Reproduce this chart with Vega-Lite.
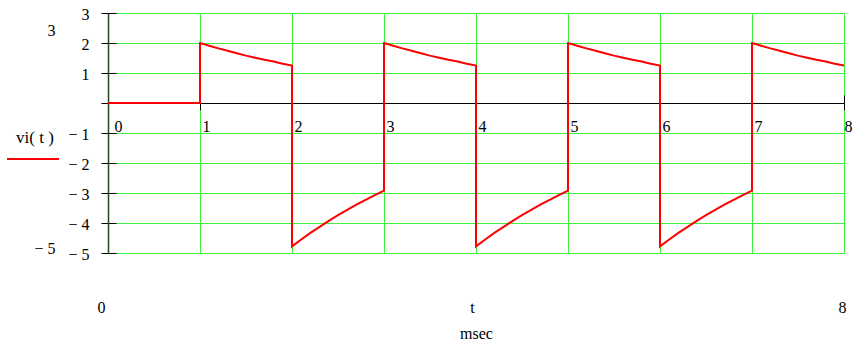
{
  "$schema": "https://vega.github.io/schema/vega-lite/v6.json",
  "width": 736,
  "height": 240,
  "autosize": {"type": "none"},
  "padding": {"left": 108, "top": 13, "right": 10, "bottom": 96},
  "background": "white",
  "config": {
    "view": {"stroke": null},
    "font": "Liberation Serif, Times New Roman, DejaVu Serif, serif",
    "axis": {
      "labelFont": "Liberation Serif, Times New Roman, DejaVu Serif, serif",
      "labelFontSize": 16,
      "labelColor": "black",
      "titleFont": "Liberation Serif, Times New Roman, DejaVu Serif, serif",
      "titleFontSize": 16,
      "titleFontWeight": "normal",
      "titleColor": "black",
      "labelOverlap": false,
      "labelFlush": false,
      "labelBound": false,
      "gridColor": "#3cf03c",
      "gridOpacity": 1,
      "gridWidth": 1,
      "domainColor": "black",
      "tickColor": "black"
    },
    "legend": {
      "titleFont": "Liberation Serif, Times New Roman, DejaVu Serif, serif",
      "labelFont": "Liberation Serif, Times New Roman, DejaVu Serif, serif"
    }
  },
  "data": {
    "values": [
      {"i": 0, "t": 0, "v": 0},
      {"i": 1, "t": 1, "v": 0},
      {"i": 2, "t": 1, "v": 2.0},
      {"i": 3, "t": 1.1, "v": 1.91},
      {"i": 4, "t": 1.2, "v": 1.82},
      {"i": 5, "t": 1.3, "v": 1.74},
      {"i": 6, "t": 1.4, "v": 1.66},
      {"i": 7, "t": 1.5, "v": 1.58},
      {"i": 8, "t": 1.6, "v": 1.51},
      {"i": 9, "t": 1.7, "v": 1.44},
      {"i": 10, "t": 1.8, "v": 1.38},
      {"i": 11, "t": 1.9, "v": 1.31},
      {"i": 12, "t": 2.0, "v": 1.25},
      {"i": 13, "t": 2.0, "v": -4.78},
      {"i": 14, "t": 2.1, "v": -4.55},
      {"i": 15, "t": 2.2, "v": -4.33},
      {"i": 16, "t": 2.3, "v": -4.13},
      {"i": 17, "t": 2.4, "v": -3.93},
      {"i": 18, "t": 2.5, "v": -3.74},
      {"i": 19, "t": 2.6, "v": -3.56},
      {"i": 20, "t": 2.7, "v": -3.39},
      {"i": 21, "t": 2.8, "v": -3.23},
      {"i": 22, "t": 2.9, "v": -3.07},
      {"i": 23, "t": 3.0, "v": -2.92},
      {"i": 24, "t": 3.0, "v": 2.0},
      {"i": 25, "t": 3.1, "v": 1.91},
      {"i": 26, "t": 3.2, "v": 1.82},
      {"i": 27, "t": 3.3, "v": 1.74},
      {"i": 28, "t": 3.4, "v": 1.66},
      {"i": 29, "t": 3.5, "v": 1.58},
      {"i": 30, "t": 3.6, "v": 1.51},
      {"i": 31, "t": 3.7, "v": 1.44},
      {"i": 32, "t": 3.8, "v": 1.38},
      {"i": 33, "t": 3.9, "v": 1.31},
      {"i": 34, "t": 4.0, "v": 1.25},
      {"i": 35, "t": 4.0, "v": -4.78},
      {"i": 36, "t": 4.1, "v": -4.55},
      {"i": 37, "t": 4.2, "v": -4.33},
      {"i": 38, "t": 4.3, "v": -4.13},
      {"i": 39, "t": 4.4, "v": -3.93},
      {"i": 40, "t": 4.5, "v": -3.74},
      {"i": 41, "t": 4.6, "v": -3.56},
      {"i": 42, "t": 4.7, "v": -3.39},
      {"i": 43, "t": 4.8, "v": -3.23},
      {"i": 44, "t": 4.9, "v": -3.07},
      {"i": 45, "t": 5.0, "v": -2.92},
      {"i": 46, "t": 5.0, "v": 2.0},
      {"i": 47, "t": 5.1, "v": 1.91},
      {"i": 48, "t": 5.2, "v": 1.82},
      {"i": 49, "t": 5.3, "v": 1.74},
      {"i": 50, "t": 5.4, "v": 1.66},
      {"i": 51, "t": 5.5, "v": 1.58},
      {"i": 52, "t": 5.6, "v": 1.51},
      {"i": 53, "t": 5.7, "v": 1.44},
      {"i": 54, "t": 5.8, "v": 1.38},
      {"i": 55, "t": 5.9, "v": 1.31},
      {"i": 56, "t": 6.0, "v": 1.25},
      {"i": 57, "t": 6.0, "v": -4.78},
      {"i": 58, "t": 6.1, "v": -4.55},
      {"i": 59, "t": 6.2, "v": -4.33},
      {"i": 60, "t": 6.3, "v": -4.13},
      {"i": 61, "t": 6.4, "v": -3.93},
      {"i": 62, "t": 6.5, "v": -3.74},
      {"i": 63, "t": 6.6, "v": -3.56},
      {"i": 64, "t": 6.7, "v": -3.39},
      {"i": 65, "t": 6.8, "v": -3.23},
      {"i": 66, "t": 6.9, "v": -3.07},
      {"i": 67, "t": 7.0, "v": -2.92},
      {"i": 68, "t": 7.0, "v": 2.0},
      {"i": 69, "t": 7.1, "v": 1.91},
      {"i": 70, "t": 7.2, "v": 1.82},
      {"i": 71, "t": 7.3, "v": 1.74},
      {"i": 72, "t": 7.4, "v": 1.66},
      {"i": 73, "t": 7.5, "v": 1.58},
      {"i": 74, "t": 7.6, "v": 1.51},
      {"i": 75, "t": 7.7, "v": 1.44},
      {"i": 76, "t": 7.8, "v": 1.38},
      {"i": 77, "t": 7.9, "v": 1.31},
      {"i": 78, "t": 8.0, "v": 1.25}
    ]
  },
  "resolve": {"axis": {"x": "independent", "y": "independent"}},
  "layer": [
    {
      "mark": {"type": "line", "opacity": 0},
      "encoding": {
        "x": {"field": "t", "type": "quantitative", "scale": {"domain": [0, 8], "nice": false, "zero": false},
          "axis": {"orient": "bottom", "values": [0, 4, 8], "grid": false, "domain": false, "ticks": false,
            "labelAlign": "center", "labelBaseline": "top", "labelPadding": 46,
            "labelOffset": {"expr": "datum.value == 0 ? -7 : datum.value == 4 ? -4 : -2"},
            "labelExpr": "datum.value == 4 ? 't' : datum.label",
            "title": "msec", "titleX": 368, "titleY": 85, "titleBaseline": "alphabetic", "titleAlign": "center"}},
        "y": {"field": "v", "type": "quantitative", "scale": {"domain": [-5, 3], "nice": false, "zero": false},
          "axis": {"orient": "left", "values": [3, -5], "grid": false, "domain": false, "ticks": false,
            "labelAlign": "right", "labelBaseline": "middle", "labelPadding": 53,
            "labelOffset": {"expr": "datum.value == 3 ? 17 : -5"},
            "labelExpr": "datum.value < 0 ? '− ' + abs(datum.value) : datum.label",
            "title": null}},
        "order": {"field": "i", "type": "quantitative"}
      }
    },
    {
      "mark": {"type": "line", "opacity": 0},
      "encoding": {
        "x": {"field": "t", "type": "quantitative",
          "axis": {"orient": "bottom", "offset": -150, "values": [0, 1, 2, 3, 4, 5, 6, 7, 8], "grid": false,
            "domain": true, "domainColor": "black", "domainWidth": 1,
            "ticks": true, "tickSize": 7, "tickColor": "black",
            "labelAlign": "left", "labelBaseline": "top", "labelPadding": 8,
            "labelOffset": {"expr": "datum.value == 0 ? 6 : datum.value == 8 ? 0 : 2"},
            "title": null}},
        "y": {"field": "v", "type": "quantitative",
          "axis": {"orient": "left", "values": [-5, -4, -3, -2, -1, 0, 1, 2, 3], "grid": false, "domain": false,
            "ticks": true, "tickSize": -8, "tickColor": "black", "labels": false, "title": null}},
        "order": {"field": "i", "type": "quantitative"}
      }
    },
    {
      "mark": {"type": "line", "opacity": 0},
      "encoding": {
        "x": {"field": "t", "type": "quantitative",
          "axis": {"orient": "bottom", "offset": -150, "values": [1, 2, 3, 4, 5, 6, 7, 8], "grid": false,
            "domain": false, "ticks": true, "tickSize": -8, "tickColor": "black", "labels": false, "title": null}},
        "y": {"field": "v", "type": "quantitative", "axis": null},
        "order": {"field": "i", "type": "quantitative"}
      }
    },
    {
      "mark": {"type": "line", "color": "#ff0000", "strokeWidth": 2},
      "encoding": {
        "x": {"field": "t", "type": "quantitative",
          "axis": {"orient": "top", "values": [0, 1, 2, 3, 4, 5, 6, 7, 8], "grid": true, "domain": false,
            "ticks": false, "labels": false, "title": null}},
        "y": {"field": "v", "type": "quantitative",
          "axis": {"orient": "left", "values": [-5, -4, -3, -2, -1, 0, 1, 2, 3], "grid": true,
            "domain": true, "domainColor": "#1e4a1e", "domainWidth": 1.5,
            "ticks": true, "tickSize": 7, "tickColor": "black",
            "labelAlign": "right", "labelBaseline": "middle", "labelPadding": 12, "labelOffset": 1,
            "labelExpr": "datum.value < 0 ? '− ' + abs(datum.value) : datum.value == 0 ? '' : datum.label",
            "title": null}},
        "order": {"field": "i", "type": "quantitative"},
        "color": {"datum": "vi( t )", "type": "nominal",
          "scale": {"range": ["#ff0000"]},
          "legend": {"orient": "none", "legendX": -102, "legendY": 117, "title": "vi( t )",
            "titleFontSize": 17, "titleFontWeight": "normal", "titleColor": "black", "titleAnchor": "middle",
            "titleAlign": "center", "titlePadding": -15,
            "symbolType": "stroke", "symbolSize": 2704, "symbolStrokeWidth": 2, "symbolStrokeColor": "#ff0000",
            "labelExpr": "''", "labelOffset": 0, "padding": 0, "symbolOffset": 0}}
      }
    }
  ]
}
